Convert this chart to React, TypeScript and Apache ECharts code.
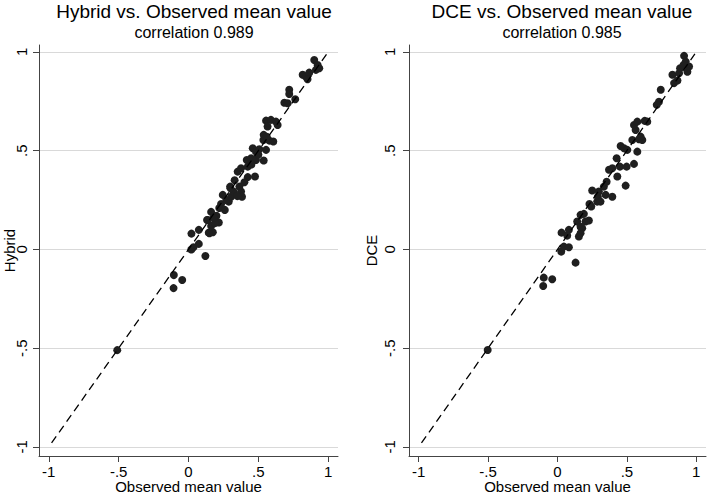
import React, { useEffect, useRef } from "react";
import * as echarts from "echarts";

const tickValues = [-1, -0.5, 0, 0.5, 1];
const refLine = [-0.98, 0.99];

const leftTitle = "Hybrid vs. Observed mean value";
const leftSub = "correlation 0.989";
const rightTitle = "DCE vs. Observed mean value";
const rightSub = "correlation 0.985";
const xName = "Observed mean value";

const obsHybrid = [
  -0.51, -0.105, -0.045, -0.107, 0.121, 0.02, 0.036, 0.074, 0.021, 0.074, 0.133, 0.162, 0.15, 0.174,
  0.162, 0.217, 0.19, 0.233, 0.288, 0.145, 0.138, 0.22, 0.245, 0.27, 0.305, 0.298, 0.321, 0.376,
  0.383, 0.364, 0.352, 0.376, 0.424, 0.476, 0.424, 0.417, 0.448, 0.483, 0.538, 0.46, 0.483, 0.507,
  0.555, 0.536, 0.579, 0.607, 0.538, 0.555, 0.59, 0.626, 0.566, 0.638, 0.721, 0.721, 0.686, 0.71,
  0.764, 0.817, 0.84, 0.864, 0.852, 0.9, 0.924, 0.936, 0.912, 0.2, 0.26, 0.33, 0.4, 0.5, 0.45, 0.56,
  0.18, 0.3, 0.35,
];
const hybridVals = [
  -0.51, -0.13, -0.155, -0.196, -0.033, 0.0, 0.011, 0.028, 0.08, 0.099, 0.149, 0.19, 0.082, 0.087,
  0.119, 0.136, 0.133, 0.23, 0.242, 0.085, 0.149, 0.21, 0.276, 0.25, 0.267, 0.318, 0.293, 0.293,
  0.267, 0.318, 0.394, 0.411, 0.366, 0.369, 0.419, 0.453, 0.462, 0.453, 0.45, 0.512, 0.495, 0.507,
  0.504, 0.554, 0.551, 0.546, 0.58, 0.652, 0.656, 0.647, 0.622, 0.63, 0.808, 0.787, 0.743, 0.74,
  0.76, 0.884, 0.875, 0.895, 0.862, 0.959, 0.934, 0.917, 0.909, 0.17, 0.2, 0.35, 0.34, 0.48, 0.43,
  0.57, 0.16, 0.31, 0.27,
];

const obsDce = [
  -0.503, -0.099, -0.038, -0.103, 0.13, 0.027, 0.046, 0.082, 0.029, 0.082, 0.07, 0.142, 0.166, 0.178,
  0.166, 0.154, 0.202, 0.226, 0.243, 0.286, 0.166, 0.19, 0.23, 0.25, 0.291, 0.31, 0.298, 0.334,
  0.347, 0.395, 0.354, 0.371, 0.395, 0.431, 0.491, 0.45, 0.426, 0.498, 0.551, 0.455, 0.479, 0.503,
  0.575, 0.539, 0.587, 0.611, 0.563, 0.551, 0.575, 0.628, 0.647, 0.599, 0.744, 0.731, 0.715, 0.828,
  0.876, 0.84, 0.864, 0.883, 0.912, 0.924, 0.948, 0.936, 0.908,
];
const dceVals = [
  -0.509, -0.143, -0.151, -0.185, -0.067, -0.011, 0.014, 0.011, 0.085, 0.099, 0.07, 0.141, 0.175,
  0.107, 0.082, 0.065, 0.141, 0.146, 0.217, 0.242, 0.115, 0.18, 0.23, 0.298, 0.267, 0.242, 0.293,
  0.318, 0.276, 0.267, 0.343, 0.403, 0.411, 0.369, 0.323, 0.419, 0.462, 0.419, 0.433, 0.524, 0.512,
  0.504, 0.495, 0.554, 0.558, 0.554, 0.605, 0.63, 0.647, 0.651, 0.647, 0.571, 0.808, 0.748, 0.732,
  0.884, 0.892, 0.842, 0.855, 0.917, 0.98, 0.951, 0.926, 0.9, 0.934,
];

const FONT = "'Liberation Sans', Arial, sans-serif";

const fmt = (v: number) => {
  if (v === 0) return "0";
  return String(v).replace("0.", ".");
};

function makeAxes(gridIndex: number, yName: string, yNameGap: number, yLabelMargin: number) {
  const x = {
    type: "value",
    gridIndex,
    min: -1.07,
    max: 1.07,
    name: xName,
    nameLocation: "middle",
    nameGap: 23,
    nameMoveOverlap: false,
    nameTextStyle: { fontFamily: FONT, fontSize: 15, lineHeight: 15, color: "#000" },
    axisLine: { show: true, onZero: false, lineStyle: { color: "#444", width: 1 } },
    axisTick: { show: true, length: 6, customValues: tickValues, lineStyle: { color: "#444" } },
    axisLabel: {
      customValues: tickValues,
      formatter: fmt,
      margin: 8,
      lineHeight: 15,
      fontFamily: FONT,
      fontSize: 15,
      color: "#000",
    },
    splitLine: { show: false },
  };
  const y = {
    type: "value",
    gridIndex,
    min: -1.046,
    max: 1.035,
    name: yName,
    nameLocation: "middle",
    nameGap: yNameGap,
    nameMoveOverlap: false,
    nameRotate: 90,
    nameTextStyle: { fontFamily: FONT, fontSize: 15, color: "#000" },
    axisLine: { show: true, onZero: false, lineStyle: { color: "#444", width: 1 } },
    axisTick: { show: true, length: 6, customValues: tickValues, lineStyle: { color: "#444" } },
    axisLabel: {
      customValues: tickValues,
      formatter: fmt,
      rotate: 90,
      align: "center",
      verticalAlign: "bottom",
      margin: yLabelMargin,
      fontFamily: FONT,
      fontSize: 15,
      color: "#000",
    },
    splitLine: { show: true, lineStyle: { color: "#d9d9d9", width: 1.2 } },
  };
  return { x, y };
}

function seriesFor(idx: number, xs: number[], ys: number[]) {
  return [
    {
      type: "scatter",
      xAxisIndex: idx,
      yAxisIndex: idx,
      symbolSize: 8,
      itemStyle: { color: "#1f1f1f", opacity: 1 },
      data: xs.map((v, i) => [v, ys[i]]),
      z: 3,
    },
    {
      type: "line",
      xAxisIndex: idx,
      yAxisIndex: idx,
      showSymbol: false,
      symbol: "none",
      lineStyle: { color: "#000", width: 1.3, type: [8, 5] },
      data: [
        [refLine[0], refLine[0]],
        [refLine[1], refLine[1]],
      ],
      z: 4,
    },
  ];
}

export default function App() {
  const ref = useRef<HTMLDivElement>(null);
  useEffect(() => {
    if (!ref.current) return;
    const chart = echarts.init(ref.current, undefined, { renderer: "svg" });
    const a0 = makeAxes(0, "Hybrid", 22, 10);
    const a1 = makeAxes(1, "DCE", 30, 12);
    chart.setOption({
      animation: false,
      backgroundColor: "#fff",
      title: [
        {
          text: leftTitle,
          subtext: leftSub,
          left: 189,
          top: -3,
          textAlign: "center",
          itemGap: 3,
          textStyle: { fontFamily: FONT, fontSize: 19, fontWeight: "normal", color: "#000" },
          subtextStyle: { fontFamily: FONT, fontSize: 16, color: "#000" },
        },
        {
          text: rightTitle,
          subtext: rightSub,
          left: 557,
          top: -3,
          textAlign: "center",
          itemGap: 3,
          textStyle: { fontFamily: FONT, fontSize: 19, fontWeight: "normal", color: "#000" },
          subtextStyle: { fontFamily: FONT, fontSize: 16, color: "#000" },
        },
      ],
      grid: [
        { left: 39, width: 299, top: 45, bottom: 38, outerBoundsMode: "none", containLabel: false },
        { left: 409, width: 297, top: 45, bottom: 38, outerBoundsMode: "none", containLabel: false },
      ],
      xAxis: [a0.x, a1.x],
      yAxis: [a0.y, a1.y],
      series: [...seriesFor(0, obsHybrid, hybridVals), ...seriesFor(1, obsDce, dceVals)],
    });
    return () => chart.dispose();
  }, []);
  return (
    <div
      ref={ref}
      style={{ position: "absolute", left: 0, top: 0, width: 708, height: 494, background: "#fff" }}
    />
  );
}
